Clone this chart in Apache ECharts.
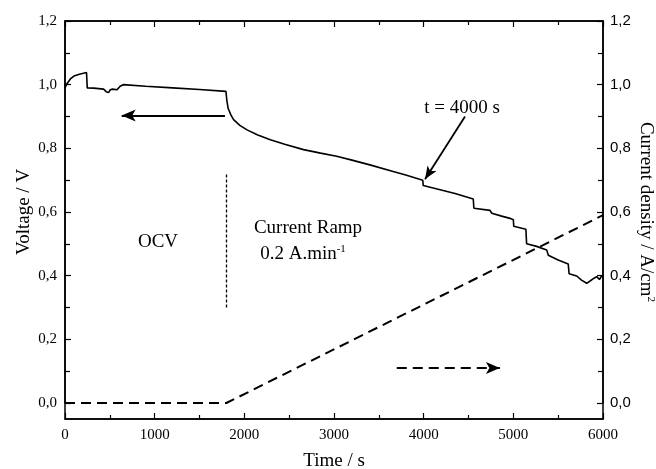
<!DOCTYPE html>
<html>
<head>
<meta charset="utf-8">
<script src="https://cdn.jsdelivr.net/npm/echarts@6/dist/echarts.min.js"></script>
<style>
  html, body { margin: 0; padding: 0; background: #fff; }
  #chart { width: 656px; height: 469px; }
</style>
</head>
<body>
<div id="chart"></div>
<script>
// cell voltage (solid line), time in s
const voltTime = [0, 20, 60, 100, 160, 240, 248, 320, 430, 460, 485, 505, 530, 580, 615, 650, 900, 1200, 1500, 1795,
  1805, 1820, 1850, 1880, 1950, 2030, 2150, 2290, 2450, 2660, 2850, 3030, 3200, 3400, 3660, 3800, 3990,
  3995, 4150, 4350, 4553, 4560, 4740, 4760, 4870, 4963, 5000, 5005, 5140, 5148, 5260, 5372, 5390, 5409,
  5500, 5612, 5622, 5707, 5760, 5818, 5860, 5900, 5930, 5960, 5985, 6000]
const voltValue = [0.99, 1.002, 1.018, 1.027, 1.033, 1.038, 0.99, 0.989, 0.986, 0.978, 0.975, 0.984, 0.986, 0.984, 0.995, 1.0, 0.995, 0.99, 0.985, 0.979,
  0.95, 0.925, 0.905, 0.89, 0.872, 0.858, 0.842, 0.827, 0.813, 0.796, 0.785, 0.775, 0.763, 0.748, 0.727, 0.716, 0.70,
  0.683, 0.672, 0.658, 0.641, 0.612, 0.605, 0.596, 0.587, 0.58, 0.576, 0.555, 0.546, 0.50, 0.492, 0.481, 0.464, 0.46,
  0.449, 0.437, 0.406, 0.399, 0.386, 0.376, 0.384, 0.392, 0.397, 0.388, 0.399, 0.395]

// current density ramp (dashed line), A/cm2
const rampTime = [0, 1800, 6000]
const rampValue = [0, 0, 0.59]

const serif = '"Liberation Serif", "Times New Roman", serif'
const sans = '"Liberation Sans", Arial, sans-serif'

function comma (v) { // 0.2 -> 0,2
  return v.toFixed(1).replace('.', ',')
}

let chart = echarts.init(document.getElementById('chart'))

let axisBase = {
  axisLine: { show: true, lineStyle: { color: '#000', width: 1.5 } },
  axisTick: { show: true, inside: true, length: 6, lineStyle: { color: '#000', width: 1.2 } },
  minorTick: { show: true, splitNumber: 2, length: 4, lineStyle: { color: '#000', width: 1.2 } },
  splitLine: { show: false }
}

let option = {
  animation: false,
  backgroundColor: '#fff',
  grid: [
    // data area, 0 of both y axes sits at its bottom
    { left: 65, right: 53, top: 21, bottom: 66, show: false, containLabel: false, outerBoundsMode: 'none' },
    // outer frame, goes a little below 0, carries the time axis
    { left: 65, right: 53, top: 21, bottom: 50, show: true, containLabel: false, outerBoundsMode: 'none',
      borderColor: '#000', borderWidth: 1.5, backgroundColor: 'transparent' }
  ],
  xAxis: [
    { type: 'value', gridIndex: 0, show: false, min: 0, max: 6000 },
    Object.assign({}, axisBase, {
      type: 'value', gridIndex: 1, position: 'bottom',
      min: 0, max: 6000, interval: 1000,
      axisLabel: { color: '#000', fontFamily: serif, fontSize: 15, margin: 9, formatter: v => String(v) },
      name: 'Time / s', nameLocation: 'middle', nameGap: 33, nameMoveOverlap: false,
      nameTextStyle: { color: '#000', fontFamily: serif, fontSize: 19 }
    }),
    Object.assign({}, axisBase, {
      type: 'value', gridIndex: 1, position: 'top',
      min: 0, max: 6000, interval: 1000,
      axisLabel: { show: false }
    })
  ],
  yAxis: [
    Object.assign({}, axisBase, {
      type: 'value', gridIndex: 0, position: 'left',
      min: 0, max: 1.2, interval: 0.2,
      minorTick: { show: true, splitNumber: 2, length: 5, lineStyle: { color: '#000', width: 1.2 } },
      axisLabel: { color: '#000', fontFamily: serif, fontSize: 15, margin: 8, formatter: comma },
      name: 'Voltage / V', nameLocation: 'middle', nameGap: 31, nameMoveOverlap: false,
      nameTextStyle: { color: '#000', fontFamily: serif, fontSize: 19 }
    }),
    Object.assign({}, axisBase, {
      type: 'value', gridIndex: 0, position: 'right',
      min: 0, max: 1.2, interval: 0.2,
      minorTick: { show: true, splitNumber: 2, length: 5, lineStyle: { color: '#000', width: 1.2 } },
      axisLabel: { color: '#000', fontFamily: sans, fontSize: 15, margin: 7, formatter: comma },
      name: '{a|Current density / A/cm}{s|2}', nameLocation: 'middle', nameGap: 33, nameRotate: -90, nameMoveOverlap: false,
      nameTextStyle: {
        color: '#000', fontFamily: serif, fontSize: 19,
        rich: {
          a: { fontFamily: serif, fontSize: 19, color: '#000' },
          s: { fontFamily: serif, fontSize: 11, color: '#000', padding: [0, 0, 9, 0] }
        }
      }
    }),
    { type: 'value', gridIndex: 1, show: false, min: 0, max: 1.2 }
  ],
  series: [
    {
      name: 'voltage',
      type: 'line',
      xAxisIndex: 0,
      yAxisIndex: 0,
      showSymbol: false,
      data: voltTime.map((t, i) => [t, voltValue[i]]),
      lineStyle: { color: '#000', width: 1.6 },
      z: 3,
      markLine: {
        silent: true,
        animation: false,
        label: { show: false },
        data: [
          // arrow to the left axis
          [{ coord: [1784, 0.903], symbol: 'none' },
            { coord: [632, 0.903], symbol: 'arrow', symbolSize: [9, 14] }],
          // t = 4000 s pointer
          [{ coord: [4461, 0.9], symbol: 'none' },
            { coord: [4015, 0.703], symbol: 'arrow', symbolSize: [8, 13] }],
          // OCV / ramp separator
          [{ coord: [1800, 0.3], symbol: 'none', lineStyle: { type: [3, 2], width: 1.3 } },
            { coord: [1800, 0.72], symbol: 'none' }]
        ],
        lineStyle: { color: '#000', width: 1.8, type: 'solid' }
      }
    },
    {
      name: 'current',
      type: 'line',
      xAxisIndex: 0,
      yAxisIndex: 1,
      showSymbol: false,
      data: rampTime.map((t, i) => [t, rampValue[i]]),
      lineStyle: { color: '#000', width: 2, type: [10, 6] },
      z: 2,
      markLine: {
        silent: true,
        animation: false,
        label: { show: false },
        data: [
          [{ coord: [3700, 0.11], symbol: 'none' },
            { coord: [4850, 0.11], symbol: 'arrow', symbolSize: [9, 14] }]
        ],
        lineStyle: { color: '#000', width: 2, type: [10, 6] }
      }
    }
  ],
  graphic: [
    { type: 'text', x: 158, y: 242, style: { text: 'OCV', font: '19px ' + serif, fill: '#000', align: 'center', verticalAlign: 'middle' } },
    { type: 'text', x: 308, y: 228, style: { text: 'Current Ramp', font: '19px ' + serif, fill: '#000', align: 'center', verticalAlign: 'middle' } },
    {
      type: 'text', x: 303, y: 254,
      style: {
        text: '{a|0.2 A.min}{s|-1}', align: 'center', verticalAlign: 'middle', fill: '#000',
        rich: {
          a: { font: '19px ' + serif, fill: '#000' },
          s: { font: '11px ' + serif, fill: '#000', padding: [0, 0, 9, 0] }
        }
      }
    },
    { type: 'text', x: 462, y: 108, style: { text: 't = 4000 s', font: '19px ' + serif, fill: '#000', align: 'center', verticalAlign: 'middle' } }
  ]
}

chart.setOption(option)
window.addEventListener('resize', function () {
  chart.resize()
})
</script>
</body>
</html>
